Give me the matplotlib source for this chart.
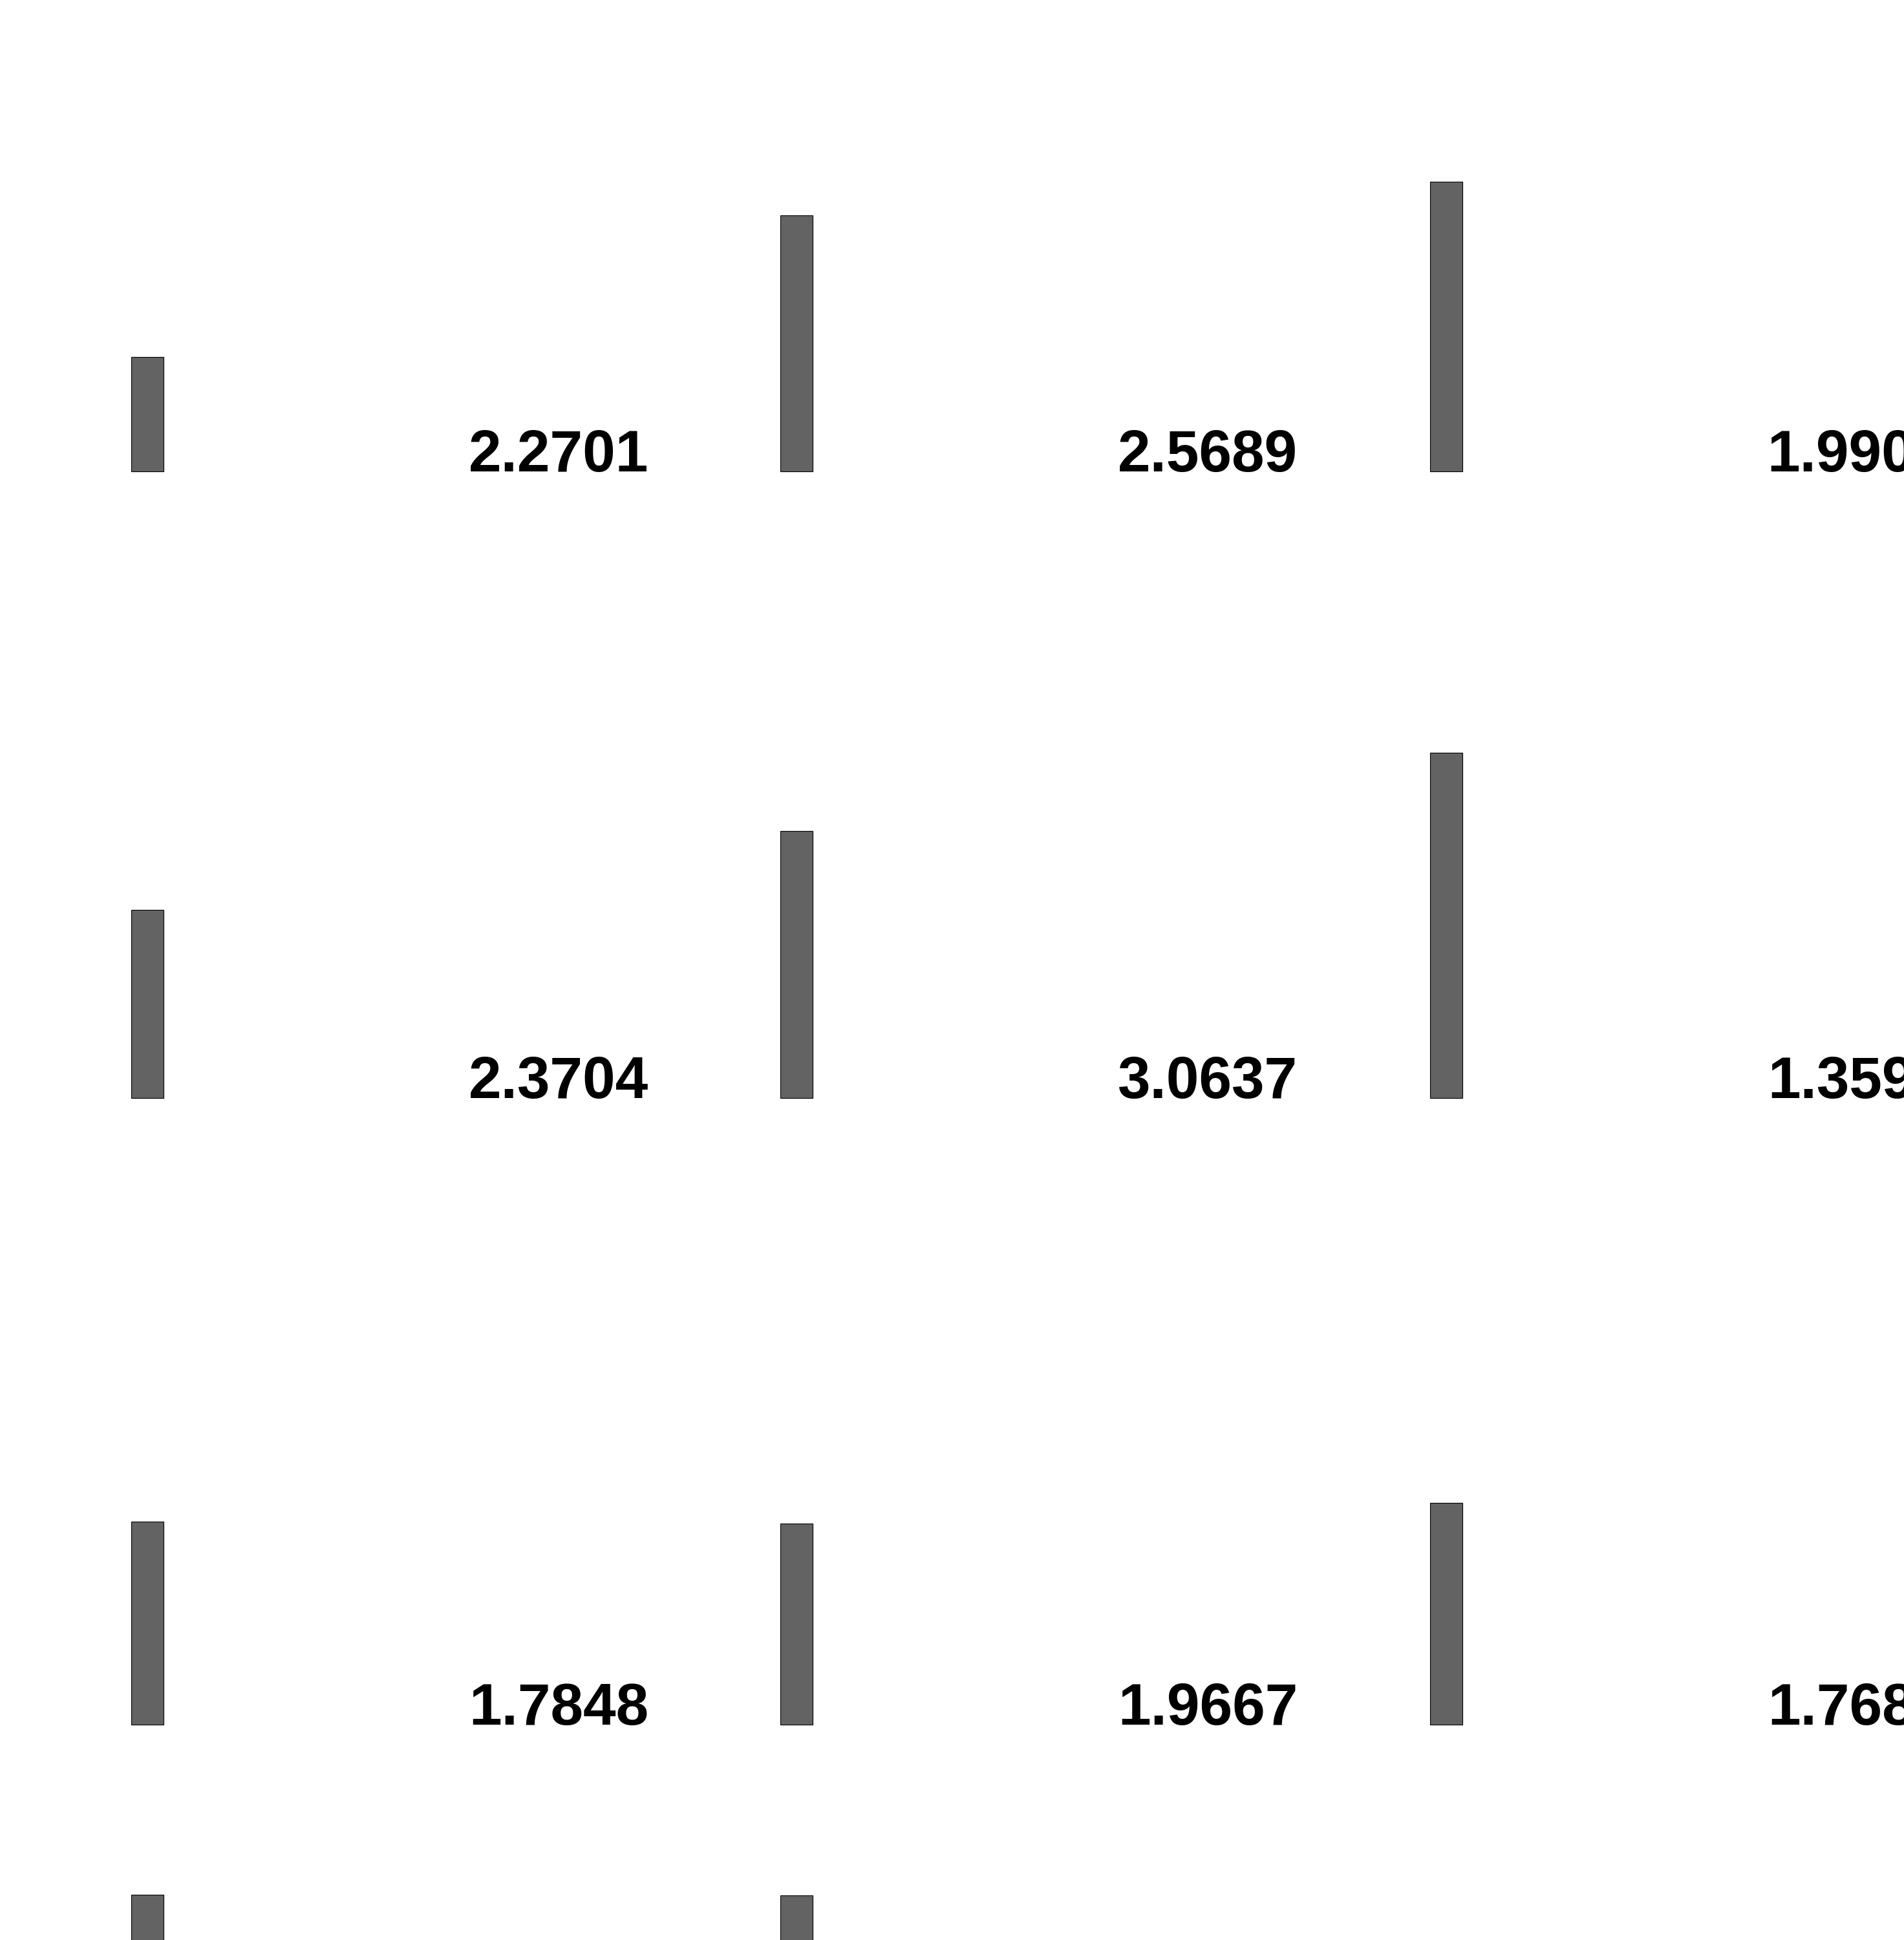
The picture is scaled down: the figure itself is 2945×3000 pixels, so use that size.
import matplotlib
matplotlib.use('Agg')
import matplotlib.pyplot as plt
import numpy as np

# bar values per row of the grid (columns 0..3)
row0_vals = [1.015, 2.2701, 2.5689, 1.9904]
row1_vals = [1.67, 2.3704, 3.0637, 1.3592]
row2_vals = [1.80, 1.7848, 1.9667, 1.7683]
row3_vals = [4.05, 4.04]

# labels drawn to the left of each bar (column 0 labels fall outside the crop)
row0_labels = ['', '2.2701', '2.5689', '1.9904']
row1_labels = ['', '2.3704', '3.0637', '1.3592']
row2_labels = ['', '1.7848', '1.9667', '1.7683']
row3_labels = ['', '']

rows_vals = [row0_vals, row1_vals, row2_vals, row3_vals]
rows_labels = [row0_labels, row1_labels, row2_labels, row3_labels]

W, H, DPI = 2945, 3000, 100
col_px = 1004.5      # pixel distance between columns
unit_px = 174.4      # pixels per value unit
row_px = 969.0       # pixel distance between rows
x0_px = 228.0        # centre of first bar
y0_px = 729.0        # baseline of first row, from top

fig = plt.figure(figsize=(W / DPI, H / DPI), dpi=DPI)
ax = fig.add_axes([0, 0, 1, 1])
ax.set_xlim(-x0_px / col_px, (W - x0_px) / col_px)
ax.set_ylim(-(H - y0_px) / unit_px, y0_px / unit_px)
ax.axis('off')

row_step = row_px / unit_px
for r in range(len(rows_vals)):
    vals = rows_vals[r]
    base = -r * row_step
    xs = np.arange(len(vals))
    ax.bar(xs, vals, width=50 / col_px, bottom=base, color='#636363',
           edgecolor='black', linewidth=0.8)
    for c in range(len(vals)):
        if rows_labels[r][c]:
            ax.text(c - 0.367, base, rows_labels[r][c], ha='center', va='baseline',
                    fontsize=65.5, fontweight='bold', family='Liberation Sans')

fig.savefig('out.png', dpi=DPI, facecolor='white')
